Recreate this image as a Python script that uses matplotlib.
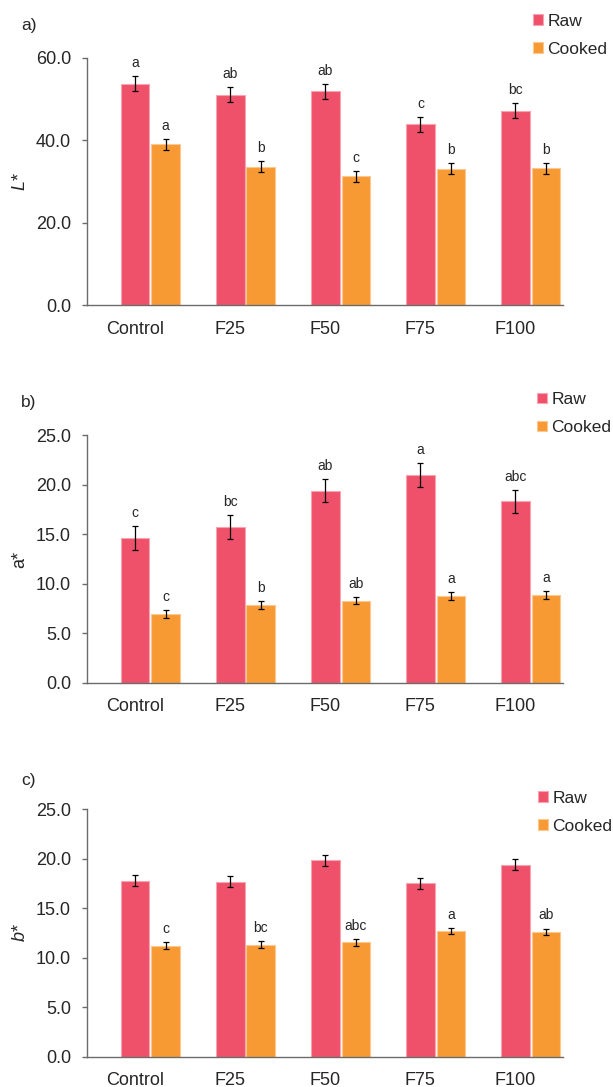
import matplotlib
matplotlib.use("Agg")
import matplotlib.pyplot as plt
import numpy as np

plt.rcParams["font.family"] = ["Liberation Sans", "DejaVu Sans"]
plt.rcParams["mathtext.fontset"] = "custom"
plt.rcParams["mathtext.it"] = "Liberation Sans:italic"
plt.rcParams["mathtext.rm"] = "Liberation Sans"

# ---- data -------------------------------------------------------------
categories = ["Control", "F25", "F50", "F75", "F100"]
series_names = ["Raw", "Cooked"]

L_raw = [53.7, 51.0, 51.9, 43.9, 47.2]
L_raw_err = [1.8, 1.8, 1.8, 1.8, 1.8]
L_cooked = [39.0, 33.6, 31.3, 33.1, 33.2]
L_cooked_err = [1.4, 1.3, 1.3, 1.3, 1.3]
L_raw_letters = ["a", "ab", "ab", "c", "bc"]
L_cooked_letters = ["a", "b", "c", "b", "b"]

a_raw = [14.6, 15.7, 19.4, 21.0, 18.3]
a_raw_err = [1.2, 1.2, 1.2, 1.2, 1.2]
a_cooked = [6.95, 7.85, 8.3, 8.75, 8.85]
a_cooked_err = [0.4, 0.4, 0.37, 0.4, 0.4]
a_raw_letters = ["c", "bc", "ab", "a", "abc"]
a_cooked_letters = ["c", "b", "ab", "a", "a"]

b_raw = [17.8, 17.7, 19.85, 17.5, 19.4]
b_raw_err = [0.55, 0.55, 0.55, 0.55, 0.55]
b_cooked = [11.2, 11.3, 11.55, 12.7, 12.6]
b_cooked_err = [0.35, 0.35, 0.35, 0.35, 0.35]
b_raw_letters = ["", "", "", "", ""]
b_cooked_letters = ["c", "bc", "abc", "a", "ab"]

# ---- styling ----------------------------------------------------------
RAW_COLOR = "#EF516B"
RAW_EDGE = "#F7A3B0"
COOKED_COLOR = "#F79A34"
COOKED_EDGE = "#FBC88F"
TEXT = "#262626"
SPINE = "#6b6b6b"

fig = plt.figure(figsize=(6.13, 10.87), dpi=100)

panels = [
    dict(tag="a)", ylabel=r"$\mathit{L}$*", ylim=(0, 60), step=20,
         raw=L_raw, raw_err=L_raw_err, ck=L_cooked, ck_err=L_cooked_err,
         raw_lt=L_raw_letters, ck_lt=L_cooked_letters,
         rect=[0.1423, 0.7191, 0.7757, 0.2278],
         tag_xy=(0.034, 0.977), leg_xy=(0.8695, 0.9872)),
    dict(tag="b)", ylabel="a*", ylim=(0, 25), step=5,
         raw=a_raw, raw_err=a_raw_err, ck=a_cooked, ck_err=a_cooked_err,
         raw_lt=a_raw_letters, ck_lt=a_cooked_letters,
         rect=[0.1423, 0.3717, 0.7757, 0.2281],
         tag_xy=(0.034, 0.630), leg_xy=(0.876, 0.6392)),
    dict(tag="c)", ylabel=r"$\mathit{b}$*", ylim=(0, 25), step=5,
         raw=b_raw, raw_err=b_raw_err, ck=b_cooked, ck_err=b_cooked_err,
         raw_lt=b_raw_letters, ck_lt=b_cooked_letters,
         rect=[0.1423, 0.0279, 0.7757, 0.2276],
         tag_xy=(0.034, 0.2824), leg_xy=(0.8777, 0.2725)),
]

x = np.arange(len(categories))
width = 0.30
offset = 0.32

for p in panels:
    ax = fig.add_axes(p["rect"])
    err_kw = dict(ecolor="black", elinewidth=0.9, capsize=2.3, capthick=0.9)
    raw_bars = ax.bar(x, p["raw"], width, yerr=p["raw_err"], color=RAW_COLOR,
                      edgecolor=RAW_EDGE, linewidth=0.8, error_kw=err_kw,
                      label=series_names[0], zorder=2)
    ck_bars = ax.bar(x + offset, p["ck"], width, yerr=p["ck_err"],
                     color=COOKED_COLOR, edgecolor=COOKED_EDGE, linewidth=0.8,
                     error_kw=err_kw, label=series_names[1], zorder=2)

    # significance letters above the error bars
    for xs, vals, errs, letters in [
        (x, p["raw"], p["raw_err"], p["raw_lt"]),
        (x + offset, p["ck"], p["ck_err"], p["ck_lt"]),
    ]:
        for xi, v, e, t in zip(xs, vals, errs, letters):
            if t:
                ax.annotate(t, (xi, v + e), xytext=(0, 6.5),
                            textcoords="offset points", ha="center",
                            va="baseline", fontsize=10, color=TEXT)

    ax.set_xlim(-0.505, 4.497)
    lo, hi = p["ylim"]
    ax.set_ylim(lo, hi)
    ticks = np.arange(lo, hi + 0.001, p["step"])
    ax.set_yticks(ticks)
    ax.set_yticklabels([f"{t:.1f}" for t in ticks])
    ax.set_xticks(x)
    ax.set_xticklabels(categories)

    for side in ("top", "right"):
        ax.spines[side].set_visible(False)
    for side in ("left", "bottom"):
        ax.spines[side].set_color(SPINE)
        ax.spines[side].set_linewidth(1.0)
    ax.tick_params(axis="y", length=3.6, width=1.0, color=SPINE, pad=8,
                   labelsize=13, labelcolor=TEXT)
    ax.tick_params(axis="x", length=0, pad=11, labelsize=13, labelcolor=TEXT)

    ax.text(-0.141, 0.5, p["ylabel"], transform=ax.transAxes, rotation=90,
            ha="center", va="center", fontsize=13, color=TEXT)

    fig.text(p["tag_xy"][0], p["tag_xy"][1], p["tag"], ha="left",
             va="center", fontsize=12.5, color=TEXT)

    fig.legend(handles=[raw_bars, ck_bars], labels=series_names,
               loc="upper left", bbox_to_anchor=p["leg_xy"],
               bbox_transform=fig.transFigure, frameon=False,
               fontsize=12.5, handlelength=0.58, handleheight=0.58,
               handletextpad=0.25, labelspacing=0.74, borderpad=0,
               borderaxespad=0, labelcolor=TEXT)

fig.savefig("out.png", dpi=100)
